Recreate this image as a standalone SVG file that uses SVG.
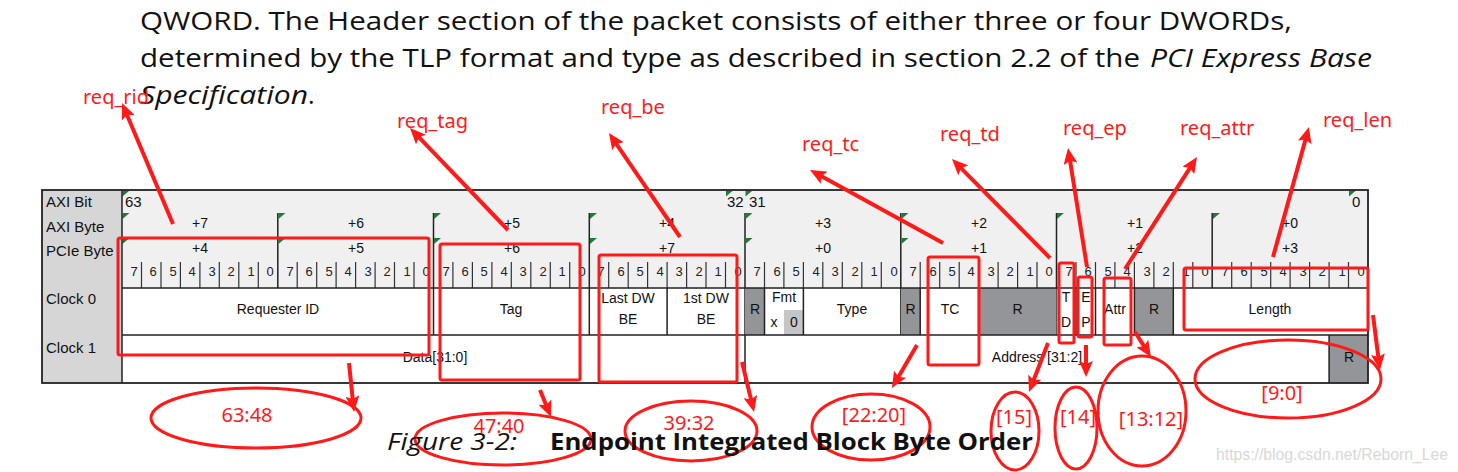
<svg xmlns="http://www.w3.org/2000/svg" width="1458" height="472" viewBox="0 0 1458 472">
<style>
.para{font-family:"Open Sans","Liberation Sans",sans-serif;font-size:25px;fill:#111}
.it{font-style:italic}
.cap{font-family:"Open Sans","Liberation Sans",sans-serif;font-size:23px;fill:#111}
.lbl{font-family:"Liberation Sans",Arial,sans-serif;font-size:15px;fill:#111}
.hd{font-family:"Liberation Sans",Arial,sans-serif;font-size:14px;fill:#111;text-anchor:middle}
.bit{font-family:"Liberation Sans",Arial,sans-serif;font-size:13px;fill:#222;text-anchor:middle}
.fld{font-family:"Liberation Sans",Arial,sans-serif;font-size:14px;fill:#111;text-anchor:middle}
.red{font-family:"Noto Sans",sans-serif;font-size:20px;fill:#ff1a1a}
.num{font-family:"Noto Sans",sans-serif;font-size:20px;fill:#ff1a1a;text-anchor:middle}
.rbox{fill:none;stroke:#ff1a1a;stroke-width:3}
.ell{fill:none;stroke:#ff1a1a;stroke-width:3}
.gray{fill:#939598}
.tick{stroke:#333;stroke-width:1.2}
.ln{stroke:#222;stroke-width:1.5}
.flag{fill:#1e7b3c}
.arr{stroke:#ff1a1a;stroke-width:4;fill:none;marker-end:url(#ah)}
.wm{font-family:"Liberation Sans",Arial,sans-serif;font-size:16px;fill:#d8d8d8}
</style>
<defs>
<marker id="ah" markerUnits="userSpaceOnUse" markerWidth="17" markerHeight="14" refX="6" refY="7" orient="auto">
<path d="M0,0 L16,7 L0,14 L3,7 z" fill="#ff1a1a"/>
</marker>
<polygon id="fl" points="0,0 7,0 0,6" class="flag"/>
</defs>
<rect width="1458" height="472" fill="#fff"/>

<g id="paragraph">
<text class="para" x="140" y="30" textLength="1152" lengthAdjust="spacingAndGlyphs">QWORD. The Header section of the packet consists of either three or four DWORDs,</text>
<text class="para" x="140" y="67" textLength="1000" lengthAdjust="spacingAndGlyphs">determined by the TLP format and type as described in section 2.2 of the</text>
<text class="para it" x="1150" y="67" textLength="222" lengthAdjust="spacingAndGlyphs">PCI Express Base</text>
<text class="para it" x="140" y="104" textLength="168" lengthAdjust="spacingAndGlyphs">Specification</text>
<text class="para" x="308" y="104">.</text>
</g>

<g id="table">
<rect x="42" y="190" width="80" height="193" fill="#d6d6d6"/>
<rect x="122" y="190" width="1246" height="98" fill="#f0f0f0"/>
<rect x="122" y="288" width="1246" height="95" fill="#fff"/>
<g id="row-labels">
<text class="lbl" x="46" y="207">AXI Bit</text>
<text class="lbl" x="46" y="232">AXI Byte</text>
<text class="lbl" x="46" y="256">PCIe Byte</text>
<text class="lbl" x="46" y="304">Clock 0</text>
<text class="lbl" x="46" y="353">Clock 1</text>
</g>
<g id="axi-bit">
<text class="lbl" x="125" y="207">63</text>
<text class="lbl" x="727" y="207">32</text>
<text class="lbl" x="749" y="207">31</text>
<text class="lbl" x="1352" y="207">0</text>
</g>
<g id="bytes">
<text class="hd" x="200" y="228">+7</text><text class="hd" x="356" y="228">+6</text><text class="hd" x="512" y="228">+5</text><text class="hd" x="667" y="228">+4</text>
<text class="hd" x="823" y="228">+3</text><text class="hd" x="979" y="228">+2</text><text class="hd" x="1135" y="228">+1</text><text class="hd" x="1290" y="228">+0</text>
<text class="hd" x="200" y="253">+4</text><text class="hd" x="356" y="253">+5</text><text class="hd" x="512" y="253">+6</text><text class="hd" x="667" y="253">+7</text>
<text class="hd" x="823" y="253">+0</text><text class="hd" x="979" y="253">+1</text><text class="hd" x="1135" y="253">+2</text><text class="hd" x="1290" y="253">+3</text>
</g>
<g id="bit-numbers">
<text class="bit" x="134" y="276">7</text><text class="bit" x="153" y="276">6</text><text class="bit" x="173" y="276">5</text><text class="bit" x="192" y="276">4</text><text class="bit" x="212" y="276">3</text><text class="bit" x="231" y="276">2</text><text class="bit" x="251" y="276">1</text><text class="bit" x="270" y="276">0</text>
<text class="bit" x="290" y="276">7</text><text class="bit" x="309" y="276">6</text><text class="bit" x="329" y="276">5</text><text class="bit" x="348" y="276">4</text><text class="bit" x="368" y="276">3</text><text class="bit" x="387" y="276">2</text><text class="bit" x="407" y="276">1</text><text class="bit" x="426" y="276">0</text>
<text class="bit" x="446" y="276">7</text><text class="bit" x="465" y="276">6</text><text class="bit" x="484" y="276">5</text><text class="bit" x="504" y="276">4</text><text class="bit" x="523" y="276">3</text><text class="bit" x="543" y="276">2</text><text class="bit" x="562" y="276">1</text><text class="bit" x="582" y="276">0</text>
<text class="bit" x="601" y="276">7</text><text class="bit" x="621" y="276">6</text><text class="bit" x="640" y="276">5</text><text class="bit" x="660" y="276">4</text><text class="bit" x="679" y="276">3</text><text class="bit" x="699" y="276">2</text><text class="bit" x="718" y="276">1</text><text class="bit" x="738" y="276">0</text>
<text class="bit" x="757" y="276">7</text><text class="bit" x="777" y="276">6</text><text class="bit" x="796" y="276">5</text><text class="bit" x="816" y="276">4</text><text class="bit" x="835" y="276">3</text><text class="bit" x="855" y="276">2</text><text class="bit" x="874" y="276">1</text><text class="bit" x="894" y="276">0</text>
<text class="bit" x="913" y="276">7</text><text class="bit" x="933" y="276">6</text><text class="bit" x="952" y="276">5</text><text class="bit" x="971" y="276">4</text><text class="bit" x="991" y="276">3</text><text class="bit" x="1010" y="276">2</text><text class="bit" x="1030" y="276">1</text><text class="bit" x="1049" y="276">0</text>
<text class="bit" x="1069" y="276">7</text><text class="bit" x="1088" y="276">6</text><text class="bit" x="1108" y="276">5</text><text class="bit" x="1127" y="276">4</text><text class="bit" x="1147" y="276">3</text><text class="bit" x="1166" y="276">2</text><text class="bit" x="1186" y="276">1</text><text class="bit" x="1205" y="276">0</text>
<text class="bit" x="1225" y="276">7</text><text class="bit" x="1244" y="276">6</text><text class="bit" x="1264" y="276">5</text><text class="bit" x="1283" y="276">4</text><text class="bit" x="1303" y="276">3</text><text class="bit" x="1322" y="276">2</text><text class="bit" x="1342" y="276">1</text><text class="bit" x="1361" y="276">0</text>
</g>
<g id="bit-ticks" class="tick">
<path d="M141.5,262V288M161,262V288M180.4,262V288M199.9,262V288M219.3,262V288M238.8,262V288M258.3,262V288
M297.2,262V288M316.7,262V288M336.1,262V288M355.6,262V288M375.1,262V288M394.5,262V288M414,262V288
M452.9,262V288M472.4,262V288M491.9,262V288M511.3,262V288M530.8,262V288M550.3,262V288M569.7,262V288
M608.7,262V288M628.2,262V288M647.6,262V288M667.1,262V288M686.6,262V288M706,262V288M725.5,262V288
M764.5,262V288M783.9,262V288M803.4,262V288M822.8,262V288M842.3,262V288M861.8,262V288M881.3,262V288
M920.2,262V288M939.7,262V288M959.2,262V288M978.6,262V288M998.1,262V288M1017.6,262V288M1037,262V288
M1076,262V288M1095.5,262V288M1114.9,262V288M1134.4,262V288M1153.9,262V288M1173.3,262V288M1192.8,262V288
M1231.7,262V288M1251.2,262V288M1270.7,262V288M1290.1,262V288M1309.6,262V288M1329.1,262V288M1348.5,262V288"/>
</g>
<g id="byte-ticks" class="ln">
<path d="M277.8,213V288M433.5,213V335M589.3,213V335M745,213V383M900.8,213V335M1056.5,213V335M1212.2,213V288"/>
</g>
<g id="flags">
<use href="#fl" x="122.5" y="190.5"/><use href="#fl" x="726" y="190.5"/><use href="#fl" x="745.5" y="190.5"/><use href="#fl" x="1349" y="190.5"/>
<use href="#fl" x="122.5" y="213"/><use href="#fl" x="278.5" y="213"/><use href="#fl" x="434" y="213"/><use href="#fl" x="590" y="213"/><use href="#fl" x="745.5" y="213"/><use href="#fl" x="901.5" y="213"/><use href="#fl" x="1057" y="213"/><use href="#fl" x="1213" y="213"/>
<use href="#fl" x="122.5" y="238"/><use href="#fl" x="278.5" y="238"/><use href="#fl" x="434" y="238"/><use href="#fl" x="590" y="238"/><use href="#fl" x="745.5" y="238"/><use href="#fl" x="901.5" y="238"/>
</g>

<g id="clock0-fields">
<rect class="gray" x="745" y="288" width="19.5" height="47"/>
<rect class="gray" x="900.8" y="288" width="19.4" height="47"/>
<rect class="gray" x="978.6" y="288" width="77.9" height="47"/>
<rect class="gray" x="1134.4" y="288" width="38.9" height="47"/>
<rect x="784" y="310" width="19.4" height="25" fill="#c4c5c7"/>
<path class="ln" d="M667.1,288V335M764.5,288V335M803.4,288V335M920.2,288V335M978.6,288V335M1076,288V335M1095.5,288V335M1134.4,288V335M1173.3,288V335"/>
<g id="f-requester-id"><text class="fld" x="278" y="314">Requester ID</text></g>
<g id="f-tag"><text class="fld" x="511" y="314">Tag</text></g>
<g id="f-last-be"><text class="fld" x="628" y="303">Last DW</text><text class="fld" x="628" y="324">BE</text></g>
<g id="f-first-be"><text class="fld" x="706" y="303">1st DW</text><text class="fld" x="706" y="324">BE</text></g>
<g id="f-r31"><text class="fld" x="755" y="314">R</text></g>
<g id="f-fmt"><text class="fld" x="784" y="302">Fmt</text><text class="fld" x="774" y="327">x</text><text class="fld" x="794" y="327">0</text></g>
<g id="f-type"><text class="fld" x="852" y="314">Type</text></g>
<g id="f-r23"><text class="fld" x="910.5" y="314">R</text></g>
<g id="f-tc"><text class="fld" x="950" y="314">TC</text></g>
<g id="f-r19"><text class="fld" x="1017.5" y="314">R</text></g>
<g id="f-td"><text class="fld" x="1066" y="302">T</text><text class="fld" x="1066" y="327">D</text></g>
<g id="f-ep"><text class="fld" x="1086" y="302">E</text><text class="fld" x="1086" y="327">P</text></g>
<g id="f-attr"><text class="fld" x="1115" y="314">Attr</text></g>
<g id="f-r11"><text class="fld" x="1154" y="314">R</text></g>
<g id="f-length"><text class="fld" x="1270" y="314">Length</text></g>
</g>

<g id="clock1-fields">
<rect class="gray" x="1329.1" y="335" width="38.9" height="48"/>
<path class="ln" d="M1329.1,335V383"/>
<g id="f-data"><text class="fld" x="435" y="362">Data[31:0]</text></g>
<g id="f-address"><text class="fld" x="1037" y="362">Address [31:2]</text></g>
<g id="f-r1"><text class="fld" x="1349" y="362">R</text></g>
</g>
<path class="ln" d="M122,288H1368M122,335H1368M122,190V383" fill="none"/>
<rect x="42" y="190" width="1326" height="193" fill="none" stroke="#222" stroke-width="1.8"/>
</g>

<g id="red-boxes">
<rect id="box-rid" class="rbox" x="118" y="238" width="311" height="117" rx="2"/>
<rect id="box-tag" class="rbox" x="440" y="244" width="140" height="136" rx="2"/>
<rect id="box-be" class="rbox" x="599" y="255" width="138" height="127" rx="2"/>
<rect id="box-tc" class="rbox" x="928" y="257" width="51" height="108" rx="2"/>
<rect id="box-td" class="rbox" x="1059" y="263" width="15" height="80" rx="2"/>
<rect id="box-ep" class="rbox" x="1078" y="277" width="14" height="60" rx="2"/>
<rect id="box-attr" class="rbox" x="1104" y="278" width="27" height="67" rx="2"/>
<rect id="box-len" class="rbox" x="1184" y="268" width="184" height="62" rx="2"/>
</g>

<g id="red-labels">
<text id="lbl-rid" class="red" x="83" y="104">req_rid</text>
<text id="lbl-tag" class="red" x="397" y="128">req_tag</text>
<text id="lbl-be" class="red" x="601" y="114">req_be</text>
<text id="lbl-tc" class="red" x="802" y="151">req_tc</text>
<text id="lbl-td" class="red" x="940" y="141">req_td</text>
<text id="lbl-ep" class="red" x="1063" y="135">req_ep</text>
<text id="lbl-attr" class="red" x="1180" y="135">req_attr</text>
<text id="lbl-len" class="red" x="1323" y="127">req_len</text>
</g>

<g id="ellipses">
<g id="e-6348"><ellipse class="ell" cx="256" cy="418" rx="105" ry="30"/><text class="num" x="247" y="422">63:48</text></g>
<g id="e-4740"><ellipse class="ell" cx="503" cy="439" rx="88" ry="26"/><text class="num" x="499" y="433">47:40</text></g>
<g id="e-3932"><ellipse class="ell" cx="691" cy="431" rx="66" ry="30"/><text class="num" x="689" y="430">39:32</text></g>
<g id="e-2220"><ellipse class="ell" cx="871" cy="427" rx="59" ry="33"/><text class="num" x="874" y="422">[22:20]</text></g>
<g id="e-15"><ellipse class="ell" cx="1015" cy="431" rx="24" ry="39"/><text class="num" x="1014" y="424">[15]</text></g>
<g id="e-14"><ellipse class="ell" cx="1076" cy="428" rx="21" ry="41"/><text class="num" x="1078" y="424">[14]</text></g>
<g id="e-1312"><ellipse class="ell" cx="1142" cy="411" rx="44" ry="55"/><text class="num" x="1151" y="426">[13:12]</text></g>
<g id="e-90"><ellipse class="ell" cx="1288" cy="379" rx="93" ry="39"/><text class="num" x="1282" y="400">[9:0]</text></g>
</g>

<g id="connectors">
<line class="arr" x1="173" y1="224" x2="125.9" y2="112.2"/>
<line class="arr" x1="508" y1="230" x2="416.9" y2="135.2"/>
<line class="arr" x1="680" y1="237" x2="614.6" y2="141.3"/>
<line class="arr" x1="943" y1="243" x2="818.8" y2="174.8"/>
<line class="arr" x1="1050" y1="258" x2="959" y2="166.1"/>
<line class="arr" x1="1087" y1="267" x2="1069.6" y2="157.9"/>
<line class="arr" x1="1125" y1="269" x2="1191.6" y2="165.4"/>
<line class="arr" x1="1273" y1="257" x2="1306.3" y2="136.6"/>
<line class="arr" x1="349" y1="363" x2="353" y2="402"/>
<line class="arr" x1="540" y1="390" x2="547.2" y2="407.7"/>
<line class="arr" x1="742" y1="362" x2="751.7" y2="402.3"/>
<line class="arr" x1="917" y1="345" x2="897" y2="379.3"/>
<line class="arr" x1="1048" y1="343" x2="1032.6" y2="382.7"/>
<line class="arr" x1="1086" y1="345" x2="1086" y2="367"/>
<line class="arr" x1="1135" y1="332" x2="1145.6" y2="348.6"/>
<line class="arr" x1="1373" y1="315" x2="1378.7" y2="360.1"/>
</g>

<g id="caption">
<text class="cap it" x="387" y="450" textLength="130" lengthAdjust="spacingAndGlyphs">Figure 3-2:</text>
<text class="cap" x="550" y="450" font-weight="bold" textLength="483" lengthAdjust="spacingAndGlyphs">Endpoint Integrated Block Byte Order</text>
</g>
<text class="wm" x="1216" y="460" textLength="232" lengthAdjust="spacingAndGlyphs">https://blog.csdn.net/Reborn_Lee</text>
</svg>
